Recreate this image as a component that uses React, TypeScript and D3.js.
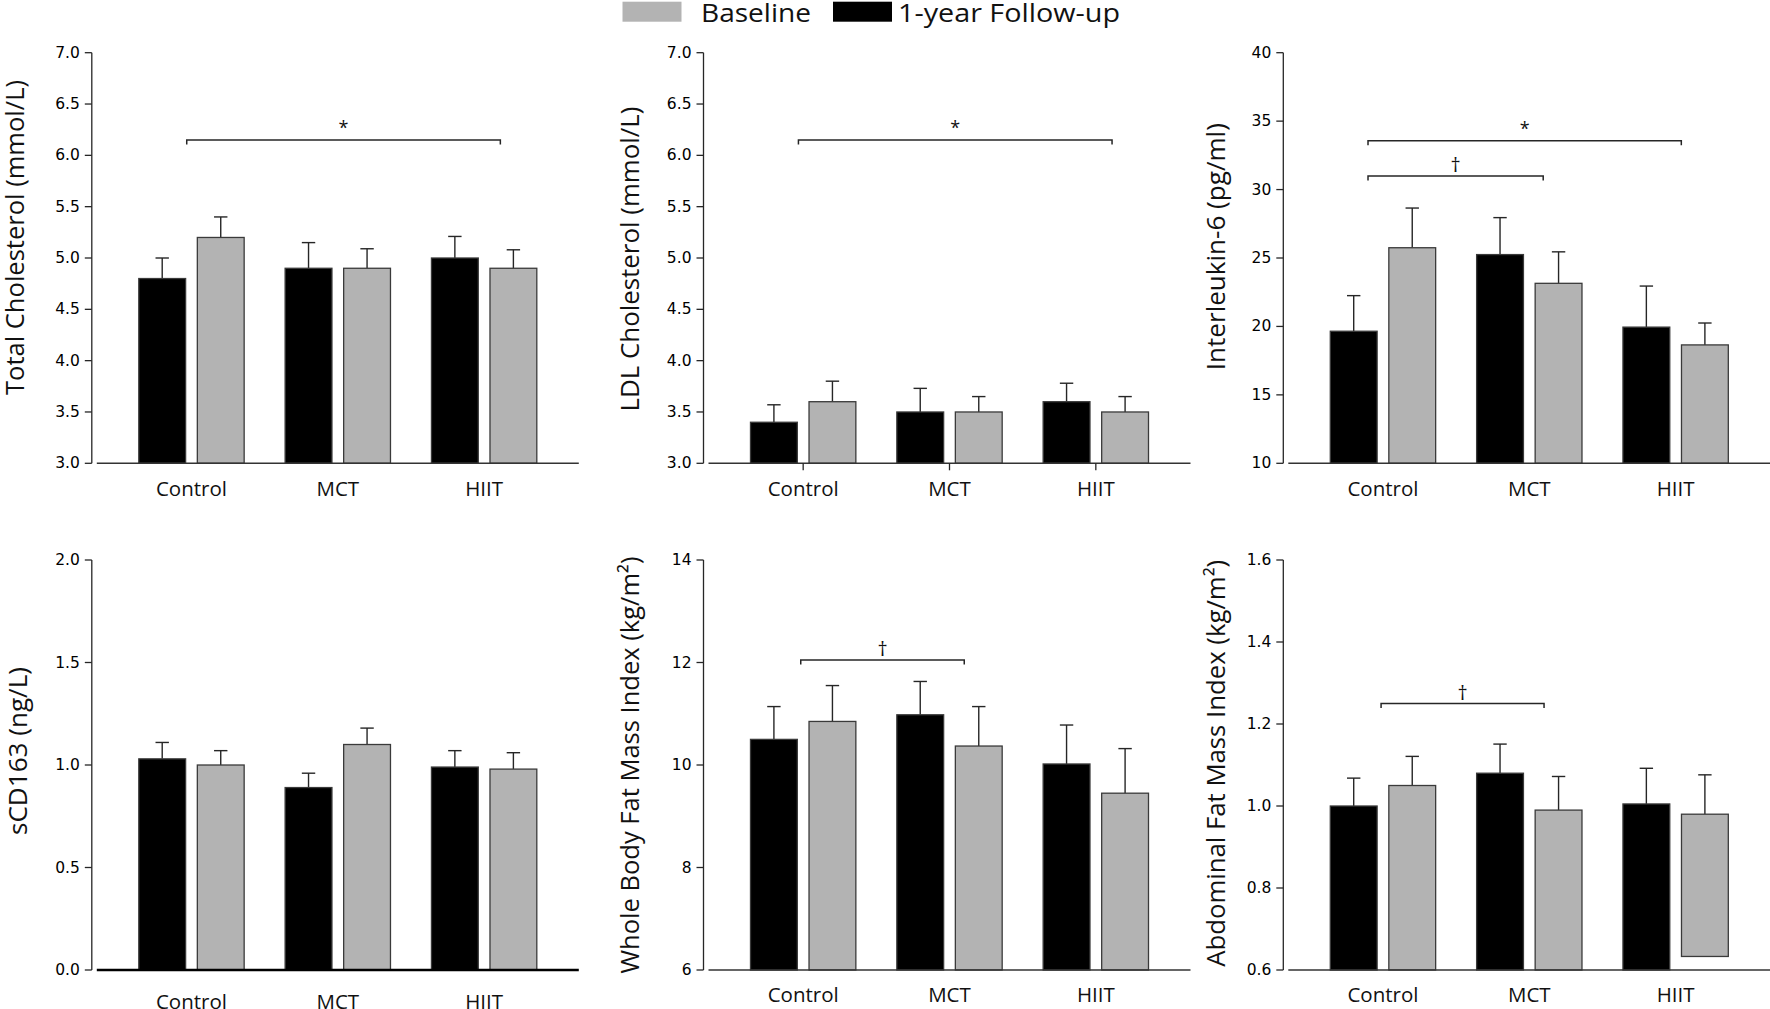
import React from "react";
import * as d3 from "d3";

// ---------- data ----------
const groups = ["Control", "MCT", "HIIT"];
const seriesKeys = ["followUp", "baseline"];
const legendLabels = ["Baseline", "1-year Follow-up"];

// Total cholesterol (mmol/L)
const tcFollowUp = [4.8, 4.9, 5.0];
const tcFollowUpSem = [0.2, 0.25, 0.21];
const tcBaseline = [5.2, 4.9, 4.9];
const tcBaselineSem = [0.2, 0.19, 0.18];
const tcTicks = [3.0, 3.5, 4.0, 4.5, 5.0, 5.5, 6.0, 6.5, 7.0];

// LDL cholesterol (mmol/L)
const ldlFollowUp = [3.4, 3.5, 3.6];
const ldlFollowUpSem = [0.17, 0.23, 0.18];
const ldlBaseline = [3.6, 3.5, 3.5];
const ldlBaselineSem = [0.2, 0.15, 0.15];
const ldlTicks = [3.0, 3.5, 4.0, 4.5, 5.0, 5.5, 6.0, 6.5, 7.0];

// Interleukin-6 (pg/ml)
const il6FollowUp = [19.65, 25.25, 19.95];
const il6FollowUpSem = [2.6, 2.7, 3.0];
const il6Baseline = [25.75, 23.15, 18.65];
const il6BaselineSem = [2.9, 2.3, 1.6];
const il6Ticks = [10, 15, 20, 25, 30, 35, 40];

// sCD163 (ng/L)
const cdFollowUp = [1.03, 0.89, 0.99];
const cdFollowUpSem = [0.08, 0.07, 0.08];
const cdBaseline = [1.0, 1.1, 0.98];
const cdBaselineSem = [0.07, 0.08, 0.08];
const cdTicks = [0.0, 0.5, 1.0, 1.5, 2.0];

// Whole body fat mass index (kg/m2)
const wbFollowUp = [10.5, 10.98, 10.02];
const wbFollowUpSem = [0.64, 0.65, 0.76];
const wbBaseline = [10.85, 10.37, 9.45];
const wbBaselineSem = [0.7, 0.77, 0.87];
const wbTicks = [6, 8, 10, 12, 14];

// Abdominal fat mass index (kg/m2)
const abFollowUp = [1.0, 1.08, 1.005];
const abFollowUpSem = [0.068, 0.071, 0.087];
const abBaseline = [1.05, 0.99, 0.98];
const abBaselineSem = [0.071, 0.082, 0.096];
const abBaselineFloor = [0.6, 0.6, 0.633];
const abTicks = [0.6, 0.8, 1.0, 1.2, 1.4, 1.6];

// significance brackets
const tcBrackets = [{ from: "Control", to: "HIIT", f0: 0.455, f1: 0.654, value: 6.15, mark: "*" }];
const ldlBrackets = [{ from: "Control", to: "HIIT", f0: 0.455, f1: 0.654, value: 6.15, mark: "*" }];
const il6Brackets = [
  { from: "Control", to: "HIIT", f0: 0.358, f1: 0.554, value: 33.57, mark: "*" },
  { from: "Control", to: "MCT", f0: 0.358, f1: 0.632, value: 31.0, mark: "\u2020" },
];
const wbBrackets = [{ from: "Control", to: "MCT", f0: 0.477, f1: 0.64, value: 12.05, mark: "\u2020" }];
const abBrackets = [{ from: "Control", to: "MCT", f0: 0.482, f1: 0.64, value: 1.25, mark: "\u2020" }];

// ---------- layout ----------
const W = 1770;
const H = 1009;
const colAxisX = [91.8, 703.5, 1283.3];
const rowY = [
  [52.7, 463.3],
  [560, 970],
];
const BLACK = "#000000";
const GRAY = "#b3b3b3";
const INK = "#262626";
const LABEL_FONT = "'Open Sans', 'Noto Sans', sans-serif";
const TICK_FONT = "'DejaVu Sans', 'Liberation Sans', sans-serif";

type Bracket = { from: string; to: string; f0: number; f1: number; value: number; mark: string };
type PanelSpec = {
  col: number;
  row: number;
  title: string;
  titleX: number;
  titleCy: number;
  titleLen: number;
  ticks: number[];
  decimals: number;
  followUp: number[];
  followUpSem: number[];
  baseline: number[];
  baselineSem: number[];
  baselineFloor?: number[];
  brackets: Bracket[];
  labelDy: number;
  xTicks?: boolean;
  axisWidth?: number;
  axisColor?: string;
};

const panels: PanelSpec[] = [
  {
    col: 0, row: 0, title: "Total Cholesterol (mmol/L)", titleX: 14, titleCy: 237.5, titleLen: 315,
    ticks: tcTicks, decimals: 1, followUp: tcFollowUp, followUpSem: tcFollowUpSem,
    baseline: tcBaseline, baselineSem: tcBaselineSem, brackets: tcBrackets, labelDy: 33,
  },
  {
    col: 1, row: 0, title: "LDL Cholesterol (mmol/L)", titleX: 629, titleCy: 259, titleLen: 305,
    ticks: ldlTicks, decimals: 1, followUp: ldlFollowUp, followUpSem: ldlFollowUpSem,
    baseline: ldlBaseline, baselineSem: ldlBaselineSem, brackets: ldlBrackets, labelDy: 33, xTicks: true,
  },
  {
    col: 2, row: 0, title: "Interleukin-6 (pg/ml)", titleX: 1215, titleCy: 246.7, titleLen: 247,
    ticks: il6Ticks, decimals: 0, followUp: il6FollowUp, followUpSem: il6FollowUpSem,
    baseline: il6Baseline, baselineSem: il6BaselineSem, brackets: il6Brackets, labelDy: 33,
  },
  {
    col: 0, row: 1, title: "sCD163 (ng/L)", titleX: 17, titleCy: 751, titleLen: 168,
    ticks: cdTicks, decimals: 1, followUp: cdFollowUp, followUpSem: cdFollowUpSem,
    baseline: cdBaseline, baselineSem: cdBaselineSem, brackets: [], labelDy: 39,
    axisWidth: 2.6, axisColor: "#000",
  },
  {
    col: 1, row: 1, title: "Whole Body Fat Mass Index (kg/m\u00b2)", titleX: 629, titleCy: 765, titleLen: 417,
    ticks: wbTicks, decimals: 0, followUp: wbFollowUp, followUpSem: wbFollowUpSem,
    baseline: wbBaseline, baselineSem: wbBaselineSem, brackets: wbBrackets, labelDy: 32,
  },
  {
    col: 2, row: 1, title: "Abdominal Fat Mass Index (kg/m\u00b2)", titleX: 1215, titleCy: 763.3, titleLen: 407,
    ticks: abTicks, decimals: 1, followUp: abFollowUp, followUpSem: abFollowUpSem,
    baseline: abBaseline, baselineSem: abBaselineSem, baselineFloor: abBaselineFloor,
    brackets: abBrackets, labelDy: 32,
  },
];

function Panel({ p }: { p: PanelSpec }) {
  const ax = colAxisX[p.col];
  const [yTop, yBot] = rowY[p.row];
  const domain = d3.extent(p.ticks) as [number, number];
  const y = d3.scaleLinear().domain(domain).range([yBot, yTop]);
  const x = d3
    .scaleBand<string>()
    .domain(groups)
    .range([ax + 5, ax + 487])
    .paddingInner(0.28)
    .paddingOuter(0.287);
  const sub = d3.scaleBand<string>().domain(seriesKeys).range([0, x.bandwidth()]).paddingInner(0.2);
  const fmt = d3.format(`.${p.decimals}f`);
  const bw = sub.bandwidth();
  const capHalf = 6.7;

  const bars: any[] = [];
  groups.forEach((g, i) => {
    seriesKeys.forEach((k) => {
      const isF = k === "followUp";
      const v = isF ? p.followUp[i] : p.baseline[i];
      const e = isF ? p.followUpSem[i] : p.baselineSem[i];
      const floor = !isF && p.baselineFloor ? p.baselineFloor[i] : domain[0];
      const x0 = (x(g) as number) + (sub(k) as number);
      const yv = y(v);
      const yb = y(floor);
      const ye = y(v + e);
      const cx = x0 + bw / 2;
      bars.push(
        <g key={g + k}>
          <line x1={cx} x2={cx} y1={yv} y2={ye} stroke={INK} strokeWidth={1.4} />
          <line x1={cx - capHalf} x2={cx + capHalf} y1={ye} y2={ye} stroke={INK} strokeWidth={1.4} />
          <rect
            x={x0}
            y={yv}
            width={bw}
            height={yb - yv}
            fill={isF ? BLACK : GRAY}
            stroke="#3a3a3a"
            strokeWidth={1.3}
          />
        </g>
      );
    });
  });

  return (
    <g>
      {/* y axis */}
      <line x1={ax} x2={ax} y1={yTop} y2={yBot} stroke={INK} strokeWidth={1.3} />
      {p.ticks.map((t) => (
        <g key={t}>
          <line x1={ax - 7} x2={ax} y1={y(t)} y2={y(t)} stroke={INK} strokeWidth={1.3} />
          <text
            x={ax - 12}
            y={y(t)}
            textAnchor="end"
            dominantBaseline="central"
            fontFamily={TICK_FONT}
            fontSize={15.5}
            fill="#000"
          >
            {fmt(t)}
          </text>
        </g>
      ))}
      {/* y title */}
      <text
        transform={`translate(${p.titleX},${p.titleCy}) rotate(-90)`}
        textAnchor="middle"
        dominantBaseline="central"
        fontFamily={LABEL_FONT}
        fontSize={25}
        fill="#111"
        textLength={p.titleLen}
        lengthAdjust="spacingAndGlyphs"
      >
        {p.title}
      </text>
      {bars}
      {/* x axis */}
      <line
        x1={x.range()[0]}
        x2={x.range()[1]}
        y1={yBot}
        y2={yBot}
        stroke={p.axisColor || "#333"}
        strokeWidth={p.axisWidth || 1.5}
      />
      {p.xTicks &&
        groups.map((g) => {
          const cx = (x(g) as number) + x.bandwidth() / 2;
          return <line key={g} x1={cx} x2={cx} y1={yBot} y2={yBot + 7} stroke={INK} strokeWidth={1.3} />;
        })}
      {groups.map((g) => (
        <text
          key={g}
          x={(x(g) as number) + x.bandwidth() / 2}
          y={yBot + p.labelDy}
          textAnchor="middle"
          fontFamily={LABEL_FONT}
          fontSize={20.5}
          fill="#111"
        >
          {g}
        </text>
      ))}
      {/* brackets */}
      {p.brackets.map((b, i) => {
        const x1 = (x(b.from) as number) + b.f0 * x.bandwidth();
        const x2 = (x(b.to) as number) + b.f1 * x.bandwidth();
        const yy = y(b.value);
        const isStar = b.mark === "*";
        return (
          <g key={i}>
            <path d={`M${x1},${yy + 4.5}V${yy}H${x2}V${yy + 4.5}`} fill="none" stroke={INK} strokeWidth={1.5} />
            <text
              x={(x1 + x2) / 2}
              y={isStar ? yy - 6 : yy - 4}
              textAnchor="middle"
              fontFamily={LABEL_FONT}
              fontSize={isStar ? 18 : 20}
              fill="#111"
            >
              {b.mark}
            </text>
          </g>
        );
      })}
    </g>
  );
}

function Legend() {
  const items = [
    { label: legendLabels[0], color: GRAY, x: 622.5, tx: 701, len: 110 },
    { label: legendLabels[1], color: BLACK, x: 833, tx: 898, len: 222 },
  ];
  return (
    <g>
      {items.map((it) => (
        <g key={it.label}>
          <rect x={it.x} y={1.7} width={59} height={20} fill={it.color} />
          <text
            x={it.tx}
            y={21.7}
            fontFamily={LABEL_FONT}
            fontSize={26}
            fill="#111"
            textLength={it.len}
            lengthAdjust="spacingAndGlyphs"
          >
            {it.label}
          </text>
        </g>
      ))}
    </g>
  );
}

export default function App() {
  return (
    <svg
      width={W}
      height={H}
      viewBox={`0 0 ${W} ${H}`}
      style={{ position: "absolute", left: 0, top: 0, background: "#fff" }}
    >
      <rect x={0} y={0} width={W} height={H} fill="#fff" />
      <Legend />
      {panels.map((p, i) => (
        <Panel key={i} p={p} />
      ))}
    </svg>
  );
}
